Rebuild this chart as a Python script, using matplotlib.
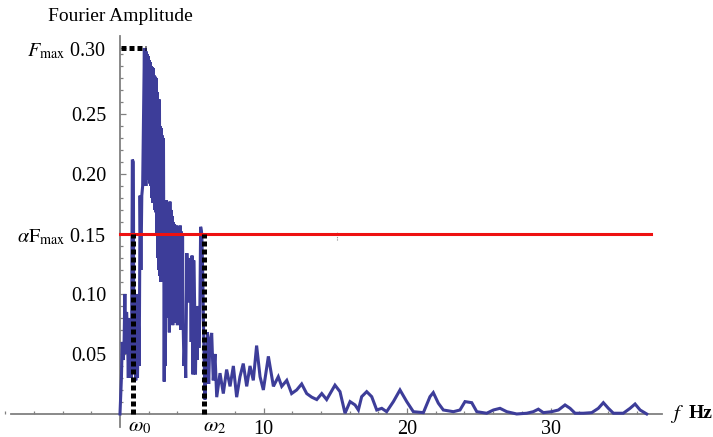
import matplotlib
matplotlib.use("Agg")
import matplotlib.pyplot as plt
from matplotlib.ticker import FixedLocator, FixedFormatter

plt.rcParams['font.family'] = ['Liberation Serif', 'DejaVu Serif']
plt.rcParams['mathtext.fontset'] = 'stix'

# ---------------- data ----------------
freq = [0.00, 0.10, 0.16, 0.22, 0.28, 0.34, 0.40, 0.46, 0.52, 0.58, 0.64, 0.70, 0.76, 0.80,
        0.86, 0.93, 0.98, 1.04, 1.10, 1.16, 1.22, 1.28, 1.34, 1.40, 1.46, 1.52, 1.58, 1.64,
        1.700, 1.735, 1.770, 1.805, 1.840, 1.875, 1.910, 1.945, 1.980, 2.015, 2.050, 2.085,
        2.120, 2.155, 2.190, 2.225, 2.260, 2.295, 2.330, 2.365, 2.400, 2.435, 2.470, 2.505,
        2.540, 2.575, 2.610, 2.645, 2.680, 2.715, 2.750, 2.785, 2.820, 2.855, 2.890, 2.925,
        2.960, 2.995, 3.030,
        3.08, 3.12, 3.16, 3.20, 3.24, 3.28, 3.32, 3.36, 3.40, 3.44, 3.48, 3.52, 3.56, 3.60,
        3.64, 3.68, 3.72, 3.76, 3.80, 3.84, 3.88, 3.92, 3.96, 4.00, 4.04, 4.08, 4.12, 4.16,
        4.20, 4.24, 4.28, 4.32, 4.36, 4.40,
        4.46, 4.52, 4.58, 4.66, 4.72, 4.78, 4.84, 4.90, 4.96, 5.02,
        5.08, 5.14, 5.20, 5.26, 5.32, 5.38, 5.44, 5.50, 5.56, 5.62, 5.70, 5.76, 5.84, 5.92,
        6.00, 6.10, 6.18, 6.26, 6.39, 6.50, 6.62, 6.74, 6.97, 7.20, 7.43, 7.67, 7.90, 8.13,
        8.36, 8.59, 8.83, 9.06, 9.29, 9.52, 9.76, 9.99, 10.34, 10.69, 11.03, 11.27, 11.62,
        11.96, 12.31, 12.66, 13.01, 13.36, 13.71, 14.06, 14.40, 14.98, 15.33, 15.68, 16.03,
        16.38, 16.61, 16.84, 17.19, 17.54, 17.89, 18.24, 18.58, 19.05, 19.51, 19.98, 20.44,
        21.14, 21.60, 21.83, 22.18, 22.53, 23.23, 23.69, 24.04, 24.51, 24.86, 25.55, 26.02,
        26.48, 26.95, 27.64, 28.34, 28.80, 29.15, 29.50, 30.08, 30.55, 31.01, 31.36, 31.71,
        32.29, 32.87, 33.33, 33.68, 34.03, 34.38, 35.07, 35.54, 35.89, 36.24, 36.70]
amplitude = [0.000, 0.030, 0.060, 0.045, 0.055, 0.100, 0.050, 0.085, 0.070, 0.030, 0.080, 0.030, 0.050, 0.030,
             0.212, 0.210, 0.035, 0.085, 0.028, 0.100, 0.030, 0.080, 0.040, 0.182, 0.120, 0.182, 0.190, 0.250,
             0.305, 0.250, 0.305, 0.190, 0.302, 0.200, 0.300, 0.197, 0.298, 0.195, 0.295, 0.192,
             0.293, 0.190, 0.290, 0.180, 0.289, 0.176, 0.288, 0.176, 0.282, 0.170, 0.281, 0.168,
             0.280, 0.150, 0.268, 0.130, 0.262, 0.120, 0.262, 0.115, 0.240, 0.110, 0.238, 0.125,
             0.232, 0.140, 0.230,
             0.027, 0.150, 0.040, 0.120, 0.178, 0.080, 0.176, 0.090, 0.175, 0.068, 0.177, 0.085, 0.170, 0.080,
             0.165, 0.074, 0.160, 0.090, 0.158, 0.085, 0.150, 0.076, 0.157, 0.074, 0.155, 0.080, 0.155, 0.082,
             0.157, 0.070, 0.152, 0.075, 0.150, 0.075,
             0.040, 0.060, 0.030, 0.134, 0.093, 0.130, 0.095, 0.125, 0.060, 0.132,
             0.033, 0.128, 0.093, 0.033, 0.085, 0.045, 0.090, 0.055, 0.080, 0.156, 0.150, 0.120, 0.060, 0.012,
             0.040, 0.068, 0.025, 0.060, 0.0675, 0.028, 0.050, 0.014, 0.034, 0.017, 0.037, 0.023, 0.040, 0.014,
             0.031, 0.042, 0.023, 0.040, 0.028, 0.057, 0.031, 0.020, 0.048, 0.023, 0.031, 0.023, 0.028,
             0.017, 0.020, 0.025, 0.017, 0.014, 0.012, 0.017, 0.012, 0.024, 0.0186, 0.0006, 0.0103,
             0.0075, 0.0033, 0.0144, 0.0186, 0.0144, 0.0033, 0.0047, 0.0019, 0.0103, 0.0200, 0.0103, 0.0019,
             0.0011, 0.0144, 0.0178, 0.0090, 0.0033, 0.0019, 0.0033, 0.0103, 0.0094, 0.0019, 0.0006, 0.0033,
             0.0047, 0.0019, 0.0000, 0.0006, 0.0019, 0.0040, 0.0011, 0.0019, 0.0033, 0.0075, 0.0047, 0.0006,
             0.0006, 0.0011, 0.0047, 0.0094, 0.0047, 0.0006, 0.0006, 0.0047, 0.0083, 0.0033, 0.0000]

f_max = 0.305          # peak amplitude
alpha_f_max = 0.15     # threshold level
omega0 = 0.88
omega2 = 5.83
peak_f = 1.80
threshold_end = 37.0

x_major = [10, 20, 30]
x_major_labels = ['10', '20', '30']
x_minor = [-8, -6, -4, -2, 2, 4, 6, 8, 12, 14, 16, 18, 22, 24, 26, 28, 32, 34, 36]
y_major = [0.05, 0.10, 0.15, 0.20, 0.25, 0.305]
y_major_labels = ['0.05', '0.10', r'$\alpha\mathrm{F}_{\mathrm{max}}$ 0.15', '0.20', '0.25',
                  r'$F_{\mathrm{max}}$ 0.30']
y_minor = [i / 100 for i in range(1, 31)]

# ---------------- figure ----------------
fig = plt.figure(figsize=(7.13, 4.37), dpi=100)
ax = fig.add_axes([0, 0, 1, 1])
ax.patch.set_alpha(0)
ax.set_xlim(-8.36, 41.32)
ax.set_ylim(-0.0192, 0.345)

blue = '#3d3d99'
ax.plot(freq, amplitude, color=blue, lw=2.2, solid_joinstyle='miter', zorder=3)
ax.plot([0, threshold_end], [alpha_f_max, alpha_f_max], color='#ee1111', lw=2.2, zorder=4)

dot = dict(color='black', lw=3.6, linestyle=(0, (1, 0.6)), dash_capstyle='butt', zorder=5)
ax.plot([0.1, peak_f], [f_max, f_max], **dot)
ax.plot([omega0, omega0], [0, alpha_f_max], **dot)
ax.plot([omega2, omega2], [0, alpha_f_max], **dot)

# tiny stray mark
ax.plot([15.12, 15.12], [0.145, 0.152], color='#888888', lw=0.8, linestyle=(0, (1, 1)), zorder=2)

# axes
gray = '#808080'
for s in ['top', 'right']:
    ax.spines[s].set_visible(False)
ax.spines['left'].set_position(('data', 0))
ax.spines['bottom'].set_position(('data', 0))
ax.spines['left'].set_bounds(-0.011, 0.315)
ax.spines['bottom'].set_bounds(-7.6, 37.8)
for s in ['left', 'bottom']:
    ax.spines[s].set_color(gray)
    ax.spines[s].set_linewidth(1.3)

ax.xaxis.set_major_locator(FixedLocator(x_major))
ax.xaxis.set_major_formatter(FixedFormatter(x_major_labels))
ax.xaxis.set_minor_locator(FixedLocator(x_minor))
ax.yaxis.set_major_locator(FixedLocator(y_major))
ax.yaxis.set_major_formatter(FixedFormatter(y_major_labels))
ax.yaxis.set_minor_locator(FixedLocator(y_minor))

ax.tick_params(axis='both', which='both', direction='in', color=gray, width=0.9,
               labelsize=14.5, labelcolor='black')
ax.tick_params(axis='x', which='major', length=4, pad=4)
ax.tick_params(axis='x', which='minor', length=2.5)
ax.tick_params(axis='y', which='major', length=4.5, pad=10)
ax.tick_params(axis='y', which='minor', length=2.5)

ax.text(1.39, -0.003, r'$\omega_0$', ha='center', va='top', fontsize=15)
ax.text(6.62, -0.003, r'$\omega_2$', ha='center', va='top', fontsize=15)

ax.text(0, 0.331, 'Fourier Amplitude', ha='center', va='center', fontsize=14)
ax.text(38.8, 0.0, r'$f$', ha='center', va='center', fontsize=15)
ax.text(39.65, 0.0, 'Hz', ha='left', va='center', fontsize=14, fontweight='bold')

fig.savefig('out.png', dpi=100)
